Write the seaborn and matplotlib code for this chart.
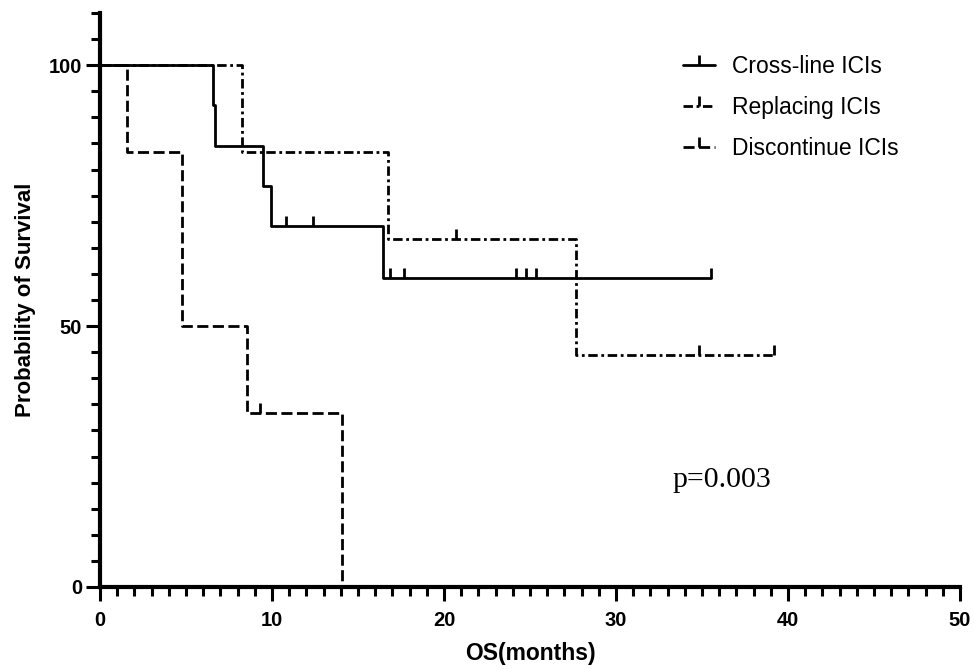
import numpy as np
import matplotlib
matplotlib.use('Agg')
import matplotlib.pyplot as plt
from matplotlib.path import Path
from matplotlib.lines import Line2D
import seaborn as sns

# Kaplan-Meier steps (months, % surviving)
cross_t = [0, 6.57, 6.70, 9.46, 9.94, 16.45, 35.5]
cross_s = [100, 92.3, 84.6, 76.9, 69.2, 59.3, 59.3]
cross_cens = [10.8, 12.37, 16.86, 17.7, 24.2, 24.75, 25.35, 35.5]

replace_t = [0, 8.26, 16.75, 27.7, 39.2]
replace_s = [100, 83.3, 66.7, 44.4, 44.4]
replace_cens = [20.7, 34.8, 39.2]

discont_t = [0, 1.57, 4.77, 8.55, 14.07]
discont_s = [100, 83.3, 50.0, 33.3, 0]
discont_cens = [9.3]

labels = ["Cross-line ICIs", "Replacing ICIs", "Discontinue ICIs"]
p_text = "p=0.003"

sns.set_style('ticks', {'axes.edgecolor': 'black', 'text.color': 'black',
                        'axes.labelcolor': 'black', 'xtick.color': 'black',
                        'ytick.color': 'black'})
plt.rcParams['font.family'] = ['Liberation Sans', 'DejaVu Sans']

# censor mark: a short upward tick from the curve
tick = Path([(0, 0), (0, 1)], [Path.MOVETO, Path.LINETO])

fig = plt.figure(figsize=(9.75, 6.69), dpi=100)
ax = fig.add_axes([0.1026, 0.1226, 0.882, 0.858])

groups = [
    (discont_t, discont_s, discont_cens, (0, (4, 1.6))),
    (replace_t, replace_s, replace_cens, (0, (3.4, 1.3, 1.0, 1.3))),
    (cross_t, cross_s, cross_cens, '-'),
]
lw = 2.0
for t, s, cens, ls in groups:
    sns.lineplot(x=t, y=s, ax=ax, color='black', linewidth=lw,
                 drawstyle='steps-post', estimator=None, sort=False)
    ax.lines[-1].set_linestyle(ls)
    idx = np.searchsorted(t, cens, side='right') - 1
    cy = np.array(s)[idx]
    ax.plot(cens, cy, linestyle='none', marker=tick, markersize=14,
            markeredgewidth=lw, color='black')

ax.set_xlim(0, 50)
ax.set_ylim(0, 110)
ax.set_xticks([0, 10, 20, 30, 40, 50])
ax.set_xticks(np.arange(0, 51, 1), minor=True)
ax.set_yticks([0, 50, 100])
ax.set_yticks(np.arange(0, 111, 5), minor=True)
ax.tick_params(which='major', length=10, width=2.2, labelsize=14.5, colors='black')
ax.tick_params(which='minor', length=6.5, width=2.2, colors='black')
ax.tick_params(axis='x', which='major', pad=7)
ax.tick_params(axis='y', which='major', pad=3)
for lab in ax.get_xticklabels() + ax.get_yticklabels():
    lab.set_fontweight('bold')

sns.despine(ax=ax)
for side in ['left', 'bottom']:
    ax.spines[side].set_linewidth(3)
    ax.spines[side].set_color('black')
ax.spines['left'].set_bounds(0, 110)

ax.set_xlabel('OS(months)', fontsize=16.5, fontweight='bold', labelpad=9, color='black')
ax.set_ylabel('Probability of Survival', fontsize=16, fontweight='bold', labelpad=9,
              color='black')

ax.text(33.3, 19.2, p_text, fontsize=21.5, family=['Liberation Serif', 'DejaVu Serif'],
        ha='left', va='baseline', color='black')

handles = [Line2D([], [], color='black', linewidth=lw, linestyle=g[3], marker=tick,
                  markersize=14, markeredgewidth=lw)
           for g in groups[::-1]]
leg = fig.legend(handles, labels, loc='upper left', bbox_to_anchor=(0.7005, 0.918),
                 frameon=False, fontsize=16.5, handlelength=1.4, handletextpad=0.75,
                 labelspacing=0.78, borderpad=0, borderaxespad=0, numpoints=1)
for txt in leg.get_texts():
    txt.set_color('black')

fig.savefig('out.png', dpi=100)
